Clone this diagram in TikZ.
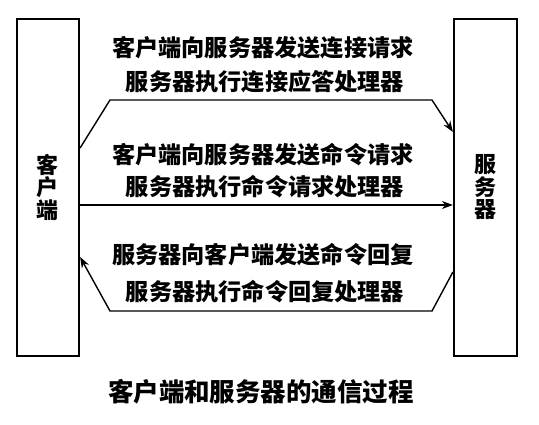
\documentclass[tikz,border=0pt]{standalone}
\usepackage{fontspec}
\newfontfamily\cjk{Noto Sans CJK SC}
\usetikzlibrary{arrows.meta}
\tikzset{
  lbl/.style={font=\cjk\bfseries\fontsize{23.2}{25}\selectfont, inner sep=0pt, anchor=center},
  box/.style={draw, line width=2.2pt, inner sep=0pt, font=\cjk\bfseries\fontsize{22}{22.5}\selectfont, align=center},
  arr/.style={line width=1.4pt, -{Stealth[length=11pt,width=8pt]}},
  captext/.style={font=\cjk\bfseries\fontsize{25.5}{27}\selectfont, inner sep=0pt}
}
\begin{document}
\begin{tikzpicture}[x=1pt,y=-1pt]
\useasboundingbox (0,0) rectangle (539,424);
\node[box, minimum width=62pt, minimum height=337pt] (client) at (48,187.5) {客\\户\\端};
\node[box, minimum width=63pt, minimum height=337pt] (server) at (485.5,187.5) {服\\务\\器};
\node[lbl] (t1) at (263,48) {客户端向服务器发送连接请求};
\node[lbl] (t2) at (265,82) {服务器执行连接应答处理器};
\node[lbl] (t3) at (263,155) {客户端向服务器发送命令请求};
\node[lbl] (t4) at (265,187) {服务器执行命令请求处理器};
\node[lbl] (t5) at (263,255) {服务器向客户端发送命令回复};
\node[lbl] (t6) at (265,292) {服务器执行命令回复处理器};
\node[captext] (caption) at (261,392) {客户端和服务器的通信过程};
\draw[arr] (client.east |- 0,148) -- (110,100) -- (432,100) -- (server.west |- 0,132);
\draw[arr] (client.east |- 0,205) -- (server.west |- 0,205);
\draw[arr] (server.west |- 0,272) -- (432,311) -- (110,311) -- (client.east |- 0,257);
\end{tikzpicture}
\end{document}
